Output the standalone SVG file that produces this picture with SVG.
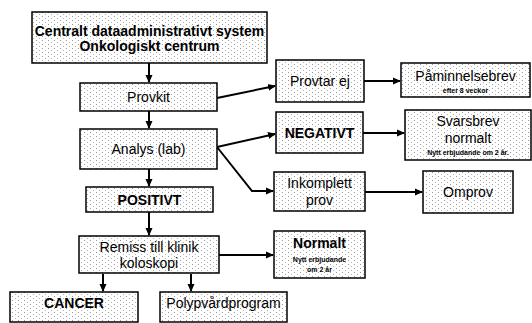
<svg xmlns="http://www.w3.org/2000/svg" width="532" height="323" viewBox="0 0 532 323">
<defs>
<pattern id="dots" width="6" height="4" patternUnits="userSpaceOnUse">
<rect width="6" height="4" fill="#ffffff"/>
<rect x="0" y="0" width="1" height="1" fill="#9a9a9a"/>
<rect x="3" y="2" width="1" height="1" fill="#b0b0b0"/>
</pattern>
<marker id="ah" markerWidth="8" markerHeight="8" refX="7" refY="4" orient="auto" markerUnits="userSpaceOnUse">
<path d="M0,0.5 L8,4 L0,7.5 Z" fill="#000"/>
</marker>
<style>
.box{fill:url(#dots);stroke:#000;stroke-width:1.5}
.t{font-family:"Liberation Sans",Arial,sans-serif;font-size:14px;fill:#000;text-anchor:middle}
.b{font-weight:bold}
.s{font-family:"Liberation Sans",Arial,sans-serif;font-size:7px;font-weight:bold;fill:#000;text-anchor:middle}
.c{fill:none;stroke:#000;stroke-width:2;marker-end:url(#ah)}
</style>
</defs>
<rect width="532" height="323" fill="#fff"/>
<g id="connectors">
<line class="c" x1="149" y1="63" x2="149" y2="82"/>
<line class="c" x1="149" y1="111" x2="149" y2="128"/>
<line class="c" x1="149" y1="169" x2="149" y2="186"/>
<line class="c" x1="149" y1="212" x2="149" y2="235"/>
<line class="c" x1="103" y1="274" x2="103" y2="291"/>
<line class="c" x1="191" y1="274" x2="191" y2="291"/>
<line class="c" x1="217" y1="98" x2="275" y2="86"/>
<line class="c" x1="217" y1="147" x2="275" y2="134"/>
<polyline class="c" points="217,147 252,191 273,191"/>
<line class="c" x1="219" y1="255" x2="273" y2="255"/>
<line class="c" x1="364" y1="81" x2="400" y2="81"/>
<line class="c" x1="363" y1="133" x2="404" y2="133"/>
<line class="c" x1="365" y1="192" x2="422" y2="192"/>
</g>
<g id="n-central">
<rect class="box" x="32" y="12" width="235" height="51"/>
<text class="t b" x="149.5" y="36">Centralt dataadministrativt system</text>
<text class="t b" x="149.5" y="51">Onkologiskt centrum</text>
</g>
<g id="n-provkit">
<rect class="box" x="80" y="83" width="137" height="28"/>
<text class="t" x="148.5" y="102">Provkit</text>
</g>
<g id="n-analys">
<rect class="box" x="80" y="129" width="137" height="40"/>
<text class="t" x="148.5" y="154">Analys (lab)</text>
</g>
<g id="n-positivt">
<rect class="box" x="86" y="187" width="127" height="25"/>
<text class="t b" x="149.5" y="205">POSITIVT</text>
</g>
<g id="n-remiss">
<rect class="box" x="79" y="236" width="140" height="37"/>
<text class="t" x="149" y="252">Remiss till klinik</text>
<text class="t" x="149" y="268">koloskopi</text>
</g>
<g id="n-cancer">
<rect class="box" x="10" y="292" width="128" height="30"/>
<text class="t b" x="74" y="308">CANCER</text>
</g>
<g id="n-polyp">
<rect class="box" x="160" y="292" width="127" height="30"/>
<text class="t" x="223.5" y="308">Polypvårdprogram</text>
</g>
<g id="n-provtar">
<rect class="box" x="276" y="60" width="88" height="42"/>
<text class="t" x="320" y="86">Provtar ej</text>
</g>
<g id="n-paminnelse">
<rect class="box" x="401" y="63" width="129" height="34"/>
<text class="t" x="465.5" y="81">Påminnelsebrev</text>
<text class="s" x="465.5" y="93">efter 8 veckor</text>
</g>
<g id="n-negativt">
<rect class="box" x="276" y="112" width="87" height="41"/>
<text class="t b" x="319.5" y="138">NEGATIVT</text>
</g>
<g id="n-svarsbrev">
<rect class="box" x="405" y="110" width="126" height="50"/>
<text class="t" x="468" y="126">Svarsbrev</text>
<text class="t" x="468" y="143">normalt</text>
<text class="s" x="468" y="155">Nytt erbjudande om 2 år.</text>
</g>
<g id="n-inkomplett">
<rect class="box" x="274" y="172" width="91" height="39"/>
<text class="t" x="319.5" y="188">Inkomplett</text>
<text class="t" x="319.5" y="205">prov</text>
</g>
<g id="n-omprov">
<rect class="box" x="423" y="171" width="90" height="42"/>
<text class="t" x="468" y="197">Omprov</text>
</g>
<g id="n-normalt">
<rect class="box" x="274" y="231" width="91" height="47"/>
<text class="t b" x="319.5" y="248">Normalt</text>
<text class="s" x="319.5" y="262">Nytt erbjudande</text>
<text class="s" x="319.5" y="272">om 2 år</text>
</g>
</svg>
